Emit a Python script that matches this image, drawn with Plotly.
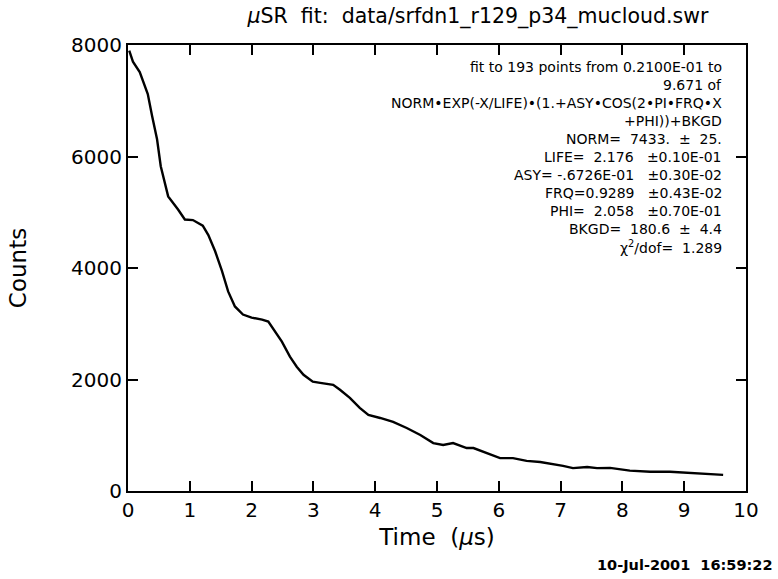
import plotly.graph_objects as go

# Time (microseconds) and counts
time_us = [0.02, 0.08, 0.19, 0.32, 0.39, 0.47, 0.53, 0.65, 0.81, 0.92, 1.05, 1.21, 1.30,
           1.41, 1.52, 1.62, 1.73, 1.86, 2.00, 2.17, 2.27, 2.38, 2.49, 2.62, 2.73, 2.84,
           2.99, 3.11, 3.32, 3.43, 3.59, 3.75, 3.89, 4.08, 4.29, 4.51, 4.73, 4.94, 5.10,
           5.26, 5.48, 5.59, 5.81, 6.02, 6.23, 6.45, 6.67, 6.88, 7.04, 7.20, 7.43, 7.59,
           7.80, 8.12, 8.45, 8.77, 9.10, 9.37, 9.63]
counts = [7900, 7700, 7515, 7120, 6725, 6310, 5825, 5285, 5050, 4870, 4860, 4760, 4590,
          4300, 3950, 3580, 3310, 3165, 3110, 3075, 3040, 2860, 2680, 2410, 2230, 2085,
          1960, 1940, 1905, 1815, 1670, 1490, 1365, 1310, 1240, 1130, 1005, 860, 825,
          860, 770, 770, 680, 590, 590, 540, 520, 485, 450, 410, 430, 410,
          415, 365, 345, 345, 325, 310, 290]

x_ticks = [0, 1, 2, 3, 4, 5, 6, 7, 8, 9, 10]
y_ticks = [0, 2000, 4000, 6000, 8000]

title_text = "<i>μ</i>SR  fit:  data/srfdn1_r129_p34_mucloud.swr"
fit_lines = [
    "fit to 193 points from 0.2100E-01 to",
    "9.671 of",
    "NORM•EXP(-X/LIFE)•(1.+ASY•COS(2•PI•FRQ•X",
    "+PHI))+BKGD",
    "NORM=  7433.  ±  25.",
    "LIFE=  2.176   ±0.10E-01",
    "ASY= -.6726E-01   ±0.30E-02",
    "FRQ=0.9289   ±0.43E-02",
    "PHI=  2.058   ±0.70E-01",
    "BKGD=  180.6  ±  4.4",
    "χ<sup>2</sup>/dof=  1.289",
]
stamp = "10-Jul-2001  16:59:22"

FONT = "DejaVu Sans"

fig = go.Figure()
fig.add_trace(go.Scatter(
    x=time_us, y=counts, mode="lines",
    line=dict(color="black", width=2.4),
    showlegend=False,
))

axis_common = dict(
    showline=True, linecolor="black", linewidth=2, mirror="ticks",
    ticks="inside", ticklen=10, tickwidth=2, tickcolor="black",
    showgrid=False, zeroline=False,
    tickfont=dict(family=FONT, size=20, color="black"),
)

fig.update_layout(
    width=778, height=579,
    margin=dict(l=128, r=32, t=45, b=88),
    paper_bgcolor="white", plot_bgcolor="white",
    title=dict(text=title_text, x=(478 / 778), xanchor="center", y=0.972, yanchor="middle",
               font=dict(family=FONT, size=20.5, color="black")),
    xaxis=dict(range=[0, 10], tickvals=x_ticks, ticktext=[str(v) for v in x_ticks],
               title=dict(text="Time  (<i>μ</i>s)", font=dict(family=FONT, size=23, color="black"),
                          standoff=8),
               **axis_common),
    yaxis=dict(range=[0, 8000], tickvals=y_ticks, ticktext=[str(v) for v in y_ticks],
               title=dict(text="Counts", font=dict(family=FONT, size=23, color="black"),
                          standoff=38),
               **axis_common),
)

y0 = 67
for i, line in enumerate(fit_lines):
    fig.add_annotation(
        xref="paper", yref="paper", x=(724 - 128) / 618, y=1 - (y0 + 18 * i - 45) / 446,
        text=line, showarrow=False, xanchor="right", yanchor="middle",
        font=dict(family=FONT, size=14, color="black"),
    )

fig.add_annotation(
    xref="paper", yref="paper", x=(775 - 128) / 618, y=1 - (565 - 45) / 446,
    text="<b>" + stamp + "</b>", showarrow=False, xanchor="right", yanchor="middle",
    font=dict(family=FONT, size=14.5, color="black"),
)

fig.write_html("out.html")
